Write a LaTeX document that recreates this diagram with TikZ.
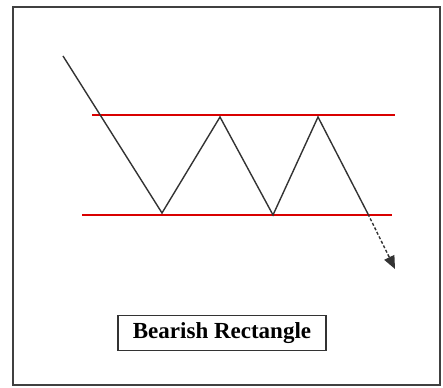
\documentclass[tikz,border=0pt]{standalone}
\usepackage{fontspec}
\setmainfont{Liberation Serif}
\usetikzlibrary{arrows.meta}

\begin{document}
\begin{tikzpicture}[
  x=1pt, y=-1pt,
  frame/.style={draw=black!75, line width=1.6pt},
  price/.style={draw=black!80, line width=1.4pt},
  bound/.style={draw=red!85!black, line width=1.2pt},
  breakout/.style={price, densely dashed, -{Triangle[length=13pt, width=11pt]}},
  caption/.style={draw=black!80, line width=1.4pt, minimum width=208pt, minimum height=35pt, inner sep=0pt, font=\bfseries\fontsize{23}{26}\selectfont}
]
\useasboundingbox (0,0) rectangle (443,387);
\draw[frame] (13,7) rectangle (440,385);

% upper and lower bounds of the range
\coordinate (top0) at (92,115);
\coordinate (top1) at (395,115);
\coordinate (bot0) at (82,215);
\coordinate (bot1) at (392,215);
\draw[bound] (top0) -- (top1);
\draw[bound] (bot0) -- (bot1);

% price swings inside the range
\coordinate (start) at (63,56);
\coordinate (low1) at (162,213);
\coordinate (high1) at (220,117);
\coordinate (low2) at (273,215);
\coordinate (high2) at (318,117);
\coordinate (exit) at (368,214);
\coordinate (target) at (395,269);
\draw[price] (start) -- (low1) -- (high1) -- (low2) -- (high2) -- (exit);
\draw[breakout] (exit) -- (target);

\node[caption] (label) at (222,333) {Bearish Rectangle};
\end{tikzpicture}
\end{document}
